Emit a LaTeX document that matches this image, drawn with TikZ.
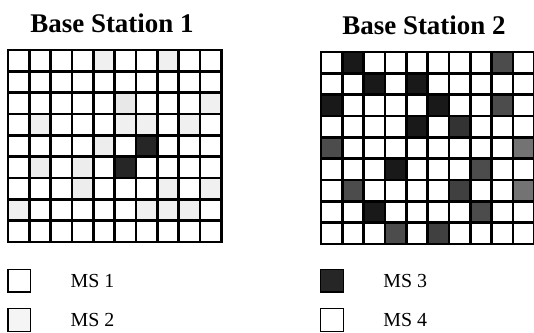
\documentclass[tikz,border=0pt]{standalone}
\usepackage{fontspec}
\setmainfont{Liberation Serif}
\usetikzlibrary{positioning}

\begin{document}
\begin{tikzpicture}[
    title/.style={font=\bfseries\fontsize{23}{25}\selectfont, anchor=base},
    cellgrid/.style={line width=2.3pt},
    key/.style={draw, line width=1.4pt, minimum size=0.68cm, inner sep=0pt},
    keylabel/.style={font=\fontsize{17}{19}\selectfont, anchor=west, inner sep=0pt}
]
\useasboundingbox (0,0) rectangle (16.02,9.99);

% Titel
\node[title] (bs1) at (3.36,9.0) {Base Station 1};
\node[title] (bs2) at (12.72,8.94) {Base Station 2};

% Base Station 1
\begin{scope}[shift={(0.24,2.73)}]
\foreach \r/\c/\s in {0/4/black!6, 0/7/black!6, 2/5/black!9, 2/9/black!6, 3/1/black!6,
    3/5/black!6, 3/6/black!6, 3/8/black!6, 4/4/black!7, 5/1/black!7, 5/3/black!7,
    6/3/black!7, 6/7/black!6, 6/9/black!6, 7/0/black!6, 7/6/black!6, 7/7/black!6,
    7/8/black!6, 4/6/black!85, 5/5/black!85}
    \fill[\s] (\c*0.64,{(8-\r)*0.64}) rectangle ++(0.64,0.64);
\draw[cellgrid] (0,0) grid[step=0.64] (6.41,5.77);
\draw[cellgrid] (0,0) rectangle (6.4,5.76);
\end{scope}

% Base Station 2
\begin{scope}[shift={(9.63,2.67)}]
\foreach \r/\c/\s in {0/1/black!90, 0/8/black!70, 1/2/black!90, 1/4/black!90, 2/0/black!90,
    2/5/black!90, 2/8/black!70, 3/4/black!90, 3/6/black!80, 4/0/black!70, 4/9/black!55,
    5/3/black!90, 5/7/black!70, 6/1/black!70, 6/6/black!75, 6/9/black!55, 7/2/black!90,
    7/7/black!70, 8/3/black!70, 8/5/black!75}
    \fill[\s] (\c*0.64,{(8-\r)*0.64}) rectangle ++(0.64,0.64);
\draw[cellgrid] (0,0) grid[step=0.64] (6.41,5.77);
\draw[cellgrid] (0,0) rectangle (6.4,5.76);
\end{scope}

% Legende
\node[key] (ms1box) at (0.58,1.57) {};
\node[key, fill=black!4] (ms2box) at (0.58,0.39) {};
\node[key, fill=black!85] (ms3box) at (9.96,1.57) {};
\node[key] (ms4box) at (9.96,0.39) {};
\node[keylabel, right=1.17cm of ms1box] (ms1) {MS 1};
\node[keylabel, right=1.17cm of ms2box] (ms2) {MS 2};
\node[keylabel, right=1.17cm of ms3box] (ms3) {MS 3};
\node[keylabel, right=1.17cm of ms4box] (ms4) {MS 4};

\end{tikzpicture}
\end{document}
